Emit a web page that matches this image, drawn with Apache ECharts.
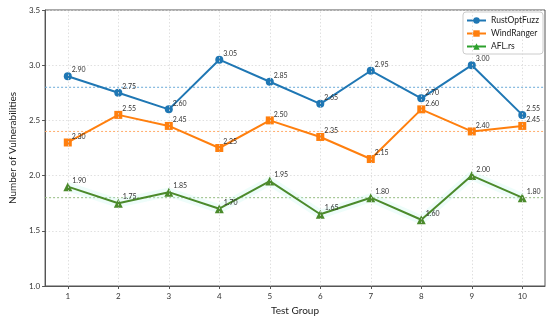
<!DOCTYPE html>
<html>
<head>
<meta charset="utf-8">
<script src="https://cdn.jsdelivr.net/npm/echarts@6/dist/echarts.min.js"></script>
<style>html,body{margin:0;padding:0;background:#fff}#c{width:550px;height:321px}</style>
</head>
<body>
<div id="c"></div>
<script>
const testGroups = [1,2,3,4,5,6,7,8,9,10];
const rustOptFuzz = [2.90,2.75,2.60,3.05,2.85,2.65,2.95,2.70,3.00,2.55];
const windRanger = [2.30,2.55,2.45,2.25,2.50,2.35,2.15,2.60,2.40,2.45];
const aflRs = [1.90,1.75,1.85,1.70,1.95,1.65,1.80,1.60,2.00,1.80];
const meanValues = [2.80, 2.40, 1.80];
const seriesNames = ['RustOptFuzz','WindRanger','AFL.rs'];
const xRange = [0.55, 10.45];

const FONT = 'Lato';
const colors = ['#1f77b4','#ff7f0e','#4b8a2b'];
const legendColors = ['#1f77b4','#ff7f0e','#2ca02c'];
const meanColors = ['#6aaad8','#ffac6a','#93bb80'];
const symbols = ['circle','rect','triangle'];
const allData = [rustOptFuzz, windRanger, aflRs];

function pairs(arr){ return arr.map((v,i)=>[testGroups[i], v]); }

const series = [];
// mean lines
meanValues.forEach((m,k)=>{
  series.push({
    type:'line', data:[[xRange[0], m],[xRange[1], m]], symbol:'none', silent:true, z:1,
    lineStyle:{type:[2,2], color: meanColors[k], width:1}
  });
});
// faint glow behind green line
series.push({
  type:'line', data: pairs(aflRs), symbol:'none', silent:true,
  lineStyle:{color:'rgba(200,248,238,0.3)', width:9}, z:1
});
allData.forEach((d,k)=>{
  series.push({
    name: seriesNames[k], type:'line', data: pairs(d),
    symbol: symbols[k], symbolSize: k===2?9:8,
    itemStyle:{color: colors[k]},
    lineStyle:{color: colors[k], width:2},
    z: 3,
    label:{show:true, position:'right', offset:[-5,-6], fontSize:7, color:'#333', fontFamily:FONT,
      formatter:p=>p.value[1].toFixed(2)}
  });
});
// vertical grid lines
series.push({
  type:'line', data:[], silent:true,
  markLine:{silent:true, symbol:'none', label:{show:false},
    lineStyle:{type:[1.5,2], color:'#d8d8d8', width:0.8},
    data: testGroups.map(g=>({xAxis:g}))}
});

const chart = echarts.init(document.getElementById('c'), null, {renderer:'canvas'});
chart.setOption({
  animation:false,
  backgroundColor:'#fff',
  grid:{left:35, right:5, top:10, bottom:32, show:true, borderColor:'#555', borderWidth:1},
  legend:{
    orient:'vertical', right:7, top:12,
    data: seriesNames.map((n,k)=>({name:n,
      itemStyle:{color: legendColors[k]}, lineStyle:{color: legendColors[k], width:2}})),
    itemWidth:19, itemHeight:8, itemGap:4,
    textStyle:{fontSize:8.5, color:'#222', fontFamily:FONT},
    borderColor:'#ccc', borderWidth:1, borderRadius:3, padding:[4,4,3,3],
    backgroundColor:'rgba(255,255,255,0.85)'
  },
  xAxis:{
    type:'value', min:xRange[0], max:xRange[1],
    name:'Test Group', nameLocation:'middle', nameGap:20,
    nameTextStyle:{fontSize:10, color:'#222', fontFamily:FONT},
    axisLine:{lineStyle:{color:'#555'}},
    axisTick:{show:true, length:3, lineStyle:{color:'#555'}, customValues: testGroups},
    axisLabel:{fontSize:8, color:'#333', fontFamily:FONT, customValues: testGroups, margin:6},
    splitLine:{show:false}
  },
  yAxis:{
    type:'value', min:1.0, max:3.5, interval:0.5,
    name:'Number of Vulnerabilities', nameLocation:'middle', nameGap:24,
    nameTextStyle:{fontSize:10, color:'#222', fontFamily:FONT},
    axisLine:{show:true, lineStyle:{color:'#555'}},
    axisTick:{show:true, length:3, lineStyle:{color:'#555'}},
    axisLabel:{fontSize:8, color:'#333', fontFamily:FONT, margin:5, formatter:v=>v.toFixed(1)},
    splitLine:{show:true, lineStyle:{type:[1.5,2], color:'#d8d8d8', width:0.8}}
  },
  series: series
});
</script>
</body>
</html>
